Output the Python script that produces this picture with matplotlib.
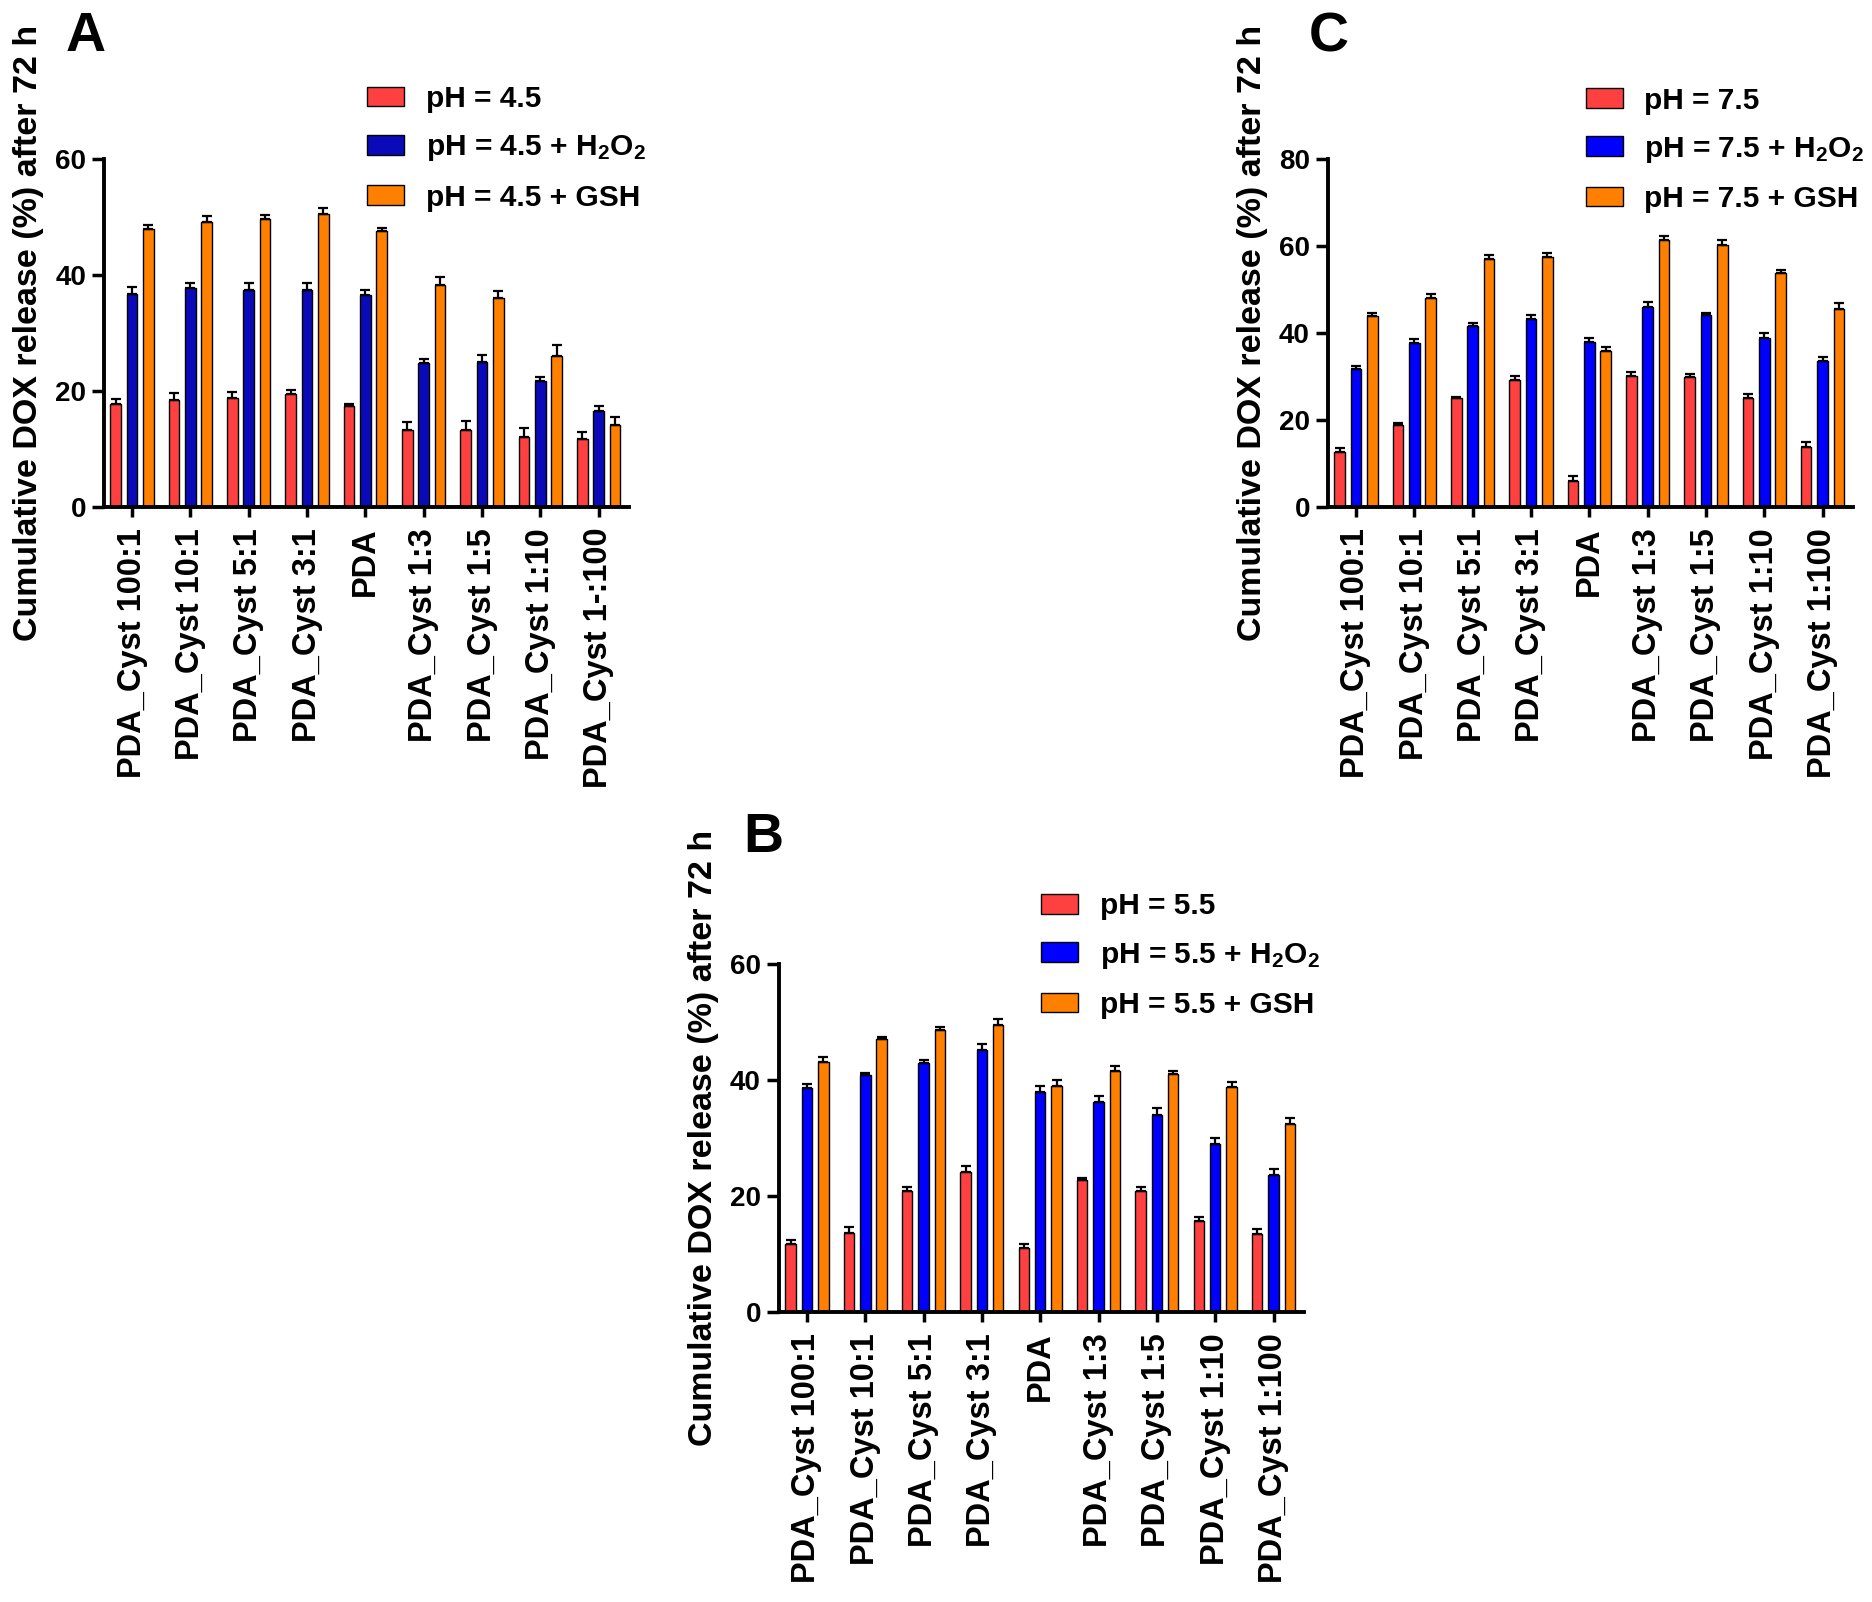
import matplotlib
matplotlib.use("Agg")
import matplotlib.pyplot as plt
import numpy as np

plt.rcParams["font.family"] = ["Liberation Sans", "DejaVu Sans"]
plt.rcParams["font.weight"] = "bold"
plt.rcParams["mathtext.fontset"] = "custom"
plt.rcParams["mathtext.rm"] = "Liberation Sans:bold"
plt.rcParams["mathtext.bf"] = "Liberation Sans:bold"
plt.rcParams["mathtext.default"] = "rm"

# ---- data ----
cats_A = ["PDA_Cyst 100:1", "PDA_Cyst 10:1", "PDA_Cyst 5:1", "PDA_Cyst 3:1", "PDA",
          "PDA_Cyst 1:3", "PDA_Cyst 1:5", "PDA_Cyst 1:10", "PDA_Cyst 1-:100"]
cats_BC = ["PDA_Cyst 100:1", "PDA_Cyst 10:1", "PDA_Cyst 5:1", "PDA_Cyst 3:1", "PDA",
           "PDA_Cyst 1:3", "PDA_Cyst 1:5", "PDA_Cyst 1:10", "PDA_Cyst 1:100"]

# A: pH 4.5
a_ph = [17.8, 18.5, 18.8, 19.5, 17.5, 13.2, 13.2, 12.1, 11.7]
a_h2o2 = [36.8, 37.7, 37.4, 37.4, 36.6, 24.8, 25.0, 21.7, 16.6]
a_gsh = [47.9, 49.1, 49.6, 50.6, 47.6, 38.3, 36.0, 26.1, 14.2]
a_ph_err = [0.75, 1.1, 1.0, 0.75, 0.2, 1.4, 1.6, 1.5, 1.3]
a_h2o2_err = [1.2, 0.9, 1.2, 1.2, 0.75, 0.7, 1.2, 0.8, 0.8]
a_gsh_err = [0.8, 1.0, 0.8, 1.0, 0.6, 1.3, 1.3, 1.9, 1.4]

# B: pH 5.5
b_ph = [11.7, 13.7, 20.8, 24.2, 11.1, 22.8, 20.8, 15.7, 13.5]
b_h2o2 = [38.7, 40.9, 42.9, 45.1, 38.0, 36.2, 34.0, 28.9, 23.7]
b_gsh = [43.2, 47.0, 48.7, 49.5, 39.0, 41.6, 41.0, 38.8, 32.5]
b_ph_err = [0.75, 0.9, 0.8, 1.0, 0.6, 0.35, 0.7, 0.7, 0.85]
b_h2o2_err = [0.6, 0.3, 0.6, 1.2, 1.0, 1.1, 1.15, 1.15, 1.0]
b_gsh_err = [0.75, 0.35, 0.5, 1.0, 1.0, 0.9, 0.6, 0.8, 1.0]

# C: pH 7.5
c_ph = [12.7, 18.9, 25.0, 29.2, 6.1, 30.2, 29.8, 25.0, 13.9]
c_h2o2 = [31.7, 37.6, 41.7, 43.2, 37.9, 46.0, 44.1, 38.9, 33.6]
c_gsh = [44.0, 48.1, 57.0, 57.6, 35.9, 61.5, 60.2, 53.8, 45.6]
c_ph_err = [0.8, 0.5, 0.4, 1.0, 1.1, 0.9, 0.8, 1.1, 1.0]
c_h2o2_err = [0.8, 1.1, 0.5, 0.9, 1.0, 1.1, 0.6, 1.0, 1.0]
c_gsh_err = [0.7, 0.8, 1.0, 0.7, 0.9, 0.8, 1.1, 0.7, 1.3]

RED = "#FF4040"
ORANGE = "#FF8000"
BLUE_DARK = "#0A0AB8"
BLUE = "#0000FF"

YLABEL = "Cumulative DOX release (%) after 72 h"

fig = plt.figure(figsize=(18.72, 16.02), dpi=100)
fig.patch.set_facecolor("white")


def panel(rect, cats, vals, errs, colors, labels, ymax, yticks, letter, letter_xy, leg_xy):
    ax = fig.add_axes(rect)
    x = np.arange(len(cats))
    offs = [-0.28, 0.0, 0.28]
    handles = []
    for v, e, c, lab, o in zip(vals, errs, colors, labels, offs):
        b = ax.bar(x + o, v, width=0.18, color=c, edgecolor="black", linewidth=1.0,
                   label=lab, zorder=2)
        ax.errorbar(x + o, v, yerr=[np.zeros(len(e)), e], fmt="none", ecolor="black",
                    elinewidth=1.6, capsize=3.5, capthick=1.6, zorder=3)
        handles.append(b)
    ax.set_xlim(-0.48, len(cats) - 0.48)
    ax.set_ylim(0, ymax)
    ax.set_yticks(yticks)
    ax.set_xticks(x)
    ax.set_xticklabels(cats, rotation=90, fontsize=23.5, fontweight="bold")
    ax.tick_params(axis="y", labelsize=20, width=2.5, length=9, pad=4)
    ax.tick_params(axis="x", width=2.5, length=7, pad=8)
    for s in ["top", "right"]:
        ax.spines[s].set_visible(False)
    for s in ["left", "bottom"]:
        ax.spines[s].set_linewidth(2.8)
    ax.set_ylabel(YLABEL, fontsize=24.5, fontweight="bold")
    ax.yaxis.set_label_coords(-0.115, 0.5)
    ax.legend(handles=handles, loc="upper left", bbox_to_anchor=leg_xy,
              bbox_transform=fig.transFigure, frameon=False, fontsize=21.5,
              handlelength=1.24, handleheight=0.64, handletextpad=0.73,
              labelspacing=0.68, borderpad=0, borderaxespad=0)
    fig.text(letter_xy[0], letter_xy[1], letter, fontsize=40, fontweight="bold",
             ha="left", va="top")
    return ax


panel([0.0556, 0.6835, 0.2804, 0.2172], cats_A,
      [a_ph, a_h2o2, a_gsh], [a_ph_err, a_h2o2_err, a_gsh_err],
      [RED, BLUE_DARK, ORANGE],
      ["pH = 4.5", "pH = 4.5 + H$_2$O$_2$", "pH = 4.5 + GSH"],
      60, [0, 20, 40, 60], "A", (0.035, 0.993), (0.196, 0.947))

panel([0.7094, 0.6835, 0.2804, 0.2172], cats_BC,
      [c_ph, c_h2o2, c_gsh], [c_ph_err, c_h2o2_err, c_gsh_err],
      [RED, BLUE, ORANGE],
      ["pH = 7.5", "pH = 7.5 + H$_2$O$_2$", "pH = 7.5 + GSH"],
      80, [0, 20, 40, 60, 80], "C", (0.699, 0.993), (0.847, 0.946))

panel([0.4161, 0.1810, 0.2804, 0.2172], cats_BC,
      [b_ph, b_h2o2, b_gsh], [b_ph_err, b_h2o2_err, b_gsh_err],
      [RED, BLUE, ORANGE],
      ["pH = 5.5", "pH = 5.5 + H$_2$O$_2$", "pH = 5.5 + GSH"],
      60, [0, 20, 40, 60], "B", (0.397, 0.493), (0.556, 0.443))

fig.savefig("out.png", dpi=100, facecolor="white")
